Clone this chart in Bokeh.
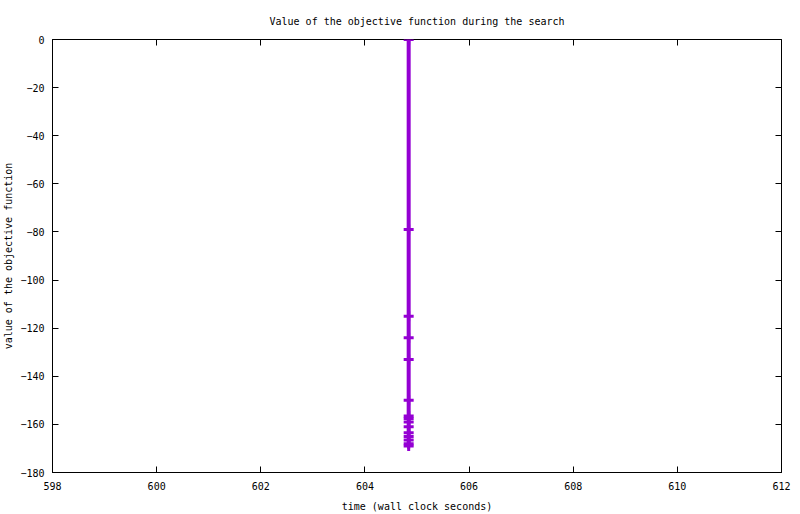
from bokeh.plotting import figure
from bokeh.models import FixedTicker, LinearAxis, CustomJSTickFormatter, Range1d
from bokeh.embed import file_html
from bokeh.resources import INLINE

# data: wall clock time (s) and objective value
times = [604.84, 604.84, 604.84, 604.84, 604.84, 604.84, 604.84, 604.84,
         604.84, 604.84, 604.84, 604.84, 604.84, 604.84, 604.84]
values = [0, -79, -115, -124, -133, -150, -156.5, -157.5, -159, -161,
          -163.5, -165, -166.5, -168, -169]
x_ticks = [598, 600, 602, 604, 606, 608, 610, 612]
y_ticks = [0, -20, -40, -60, -80, -100, -120, -140, -160, -180]

FONT = "DejaVu Sans Mono"
COLOR = "#9400D3"

p = figure(width=800, height=514, output_backend="svg", toolbar_location=None,
           x_range=Range1d(598, 612), y_range=Range1d(-180, 0),
           title="Value of the objective function during the search",
           min_border_left=52, min_border_right=19, min_border_top=39,
           min_border_bottom=42)

p.title.align = "center"
p.title.text_font = FONT
p.title.text_font_size = "10px"
p.title.text_font_style = "normal"
p.title.text_color = "black"
p.title.standoff = 25

p.grid.visible = False
p.outline_line_color = "black"
p.outline_line_width = 1
p.outline_line_alpha = 1
p.background_fill_color = "white"
p.border_fill_color = "white"

for ax in (p.xaxis[0], p.yaxis[0]):
    ax.major_tick_in = 6
    ax.major_tick_out = 0
    ax.minor_tick_in = 0
    ax.minor_tick_out = 0
    ax.axis_line_color = "black"
    ax.major_tick_line_color = "black"
    ax.major_label_text_font = FONT
    ax.major_label_text_font_size = "10px"
    ax.major_label_text_color = "black"
    ax.axis_label_text_font = FONT
    ax.axis_label_text_font_size = "10px"
    ax.axis_label_text_font_style = "normal"
    ax.axis_label_text_color = "black"

p.xaxis[0].ticker = FixedTicker(ticks=x_ticks)
p.yaxis[0].ticker = FixedTicker(ticks=y_ticks)
p.xaxis[0].axis_label = "time (wall clock seconds)"
p.yaxis[0].axis_label = "value of the objective function"
p.xaxis[0].major_label_standoff = 9
p.xaxis[0].axis_label_standoff = 8
p.yaxis[0].major_label_standoff = 8
p.yaxis[0].axis_label_standoff = 3

blank = CustomJSTickFormatter(code="return ''")
top = LinearAxis(ticker=FixedTicker(ticks=x_ticks), formatter=blank,
                 major_tick_in=6, major_tick_out=0, minor_tick_in=0, minor_tick_out=0,
                 major_label_standoff=0, axis_line_color=None,
                 major_label_text_font_size="0px")
right = LinearAxis(ticker=FixedTicker(ticks=y_ticks), formatter=blank,
                   major_tick_in=6, major_tick_out=0, minor_tick_in=0, minor_tick_out=0,
                   major_label_standoff=0, axis_line_color=None,
                   major_label_text_font_size="0px")
p.add_layout(top, "above")
p.add_layout(right, "right")

p.line(times, values, line_color=COLOR, line_width=4)
p.scatter(times, values, marker="cross", size=10, line_color=COLOR, line_width=3)

open("out.html", "w").write(file_html(p, INLINE))
